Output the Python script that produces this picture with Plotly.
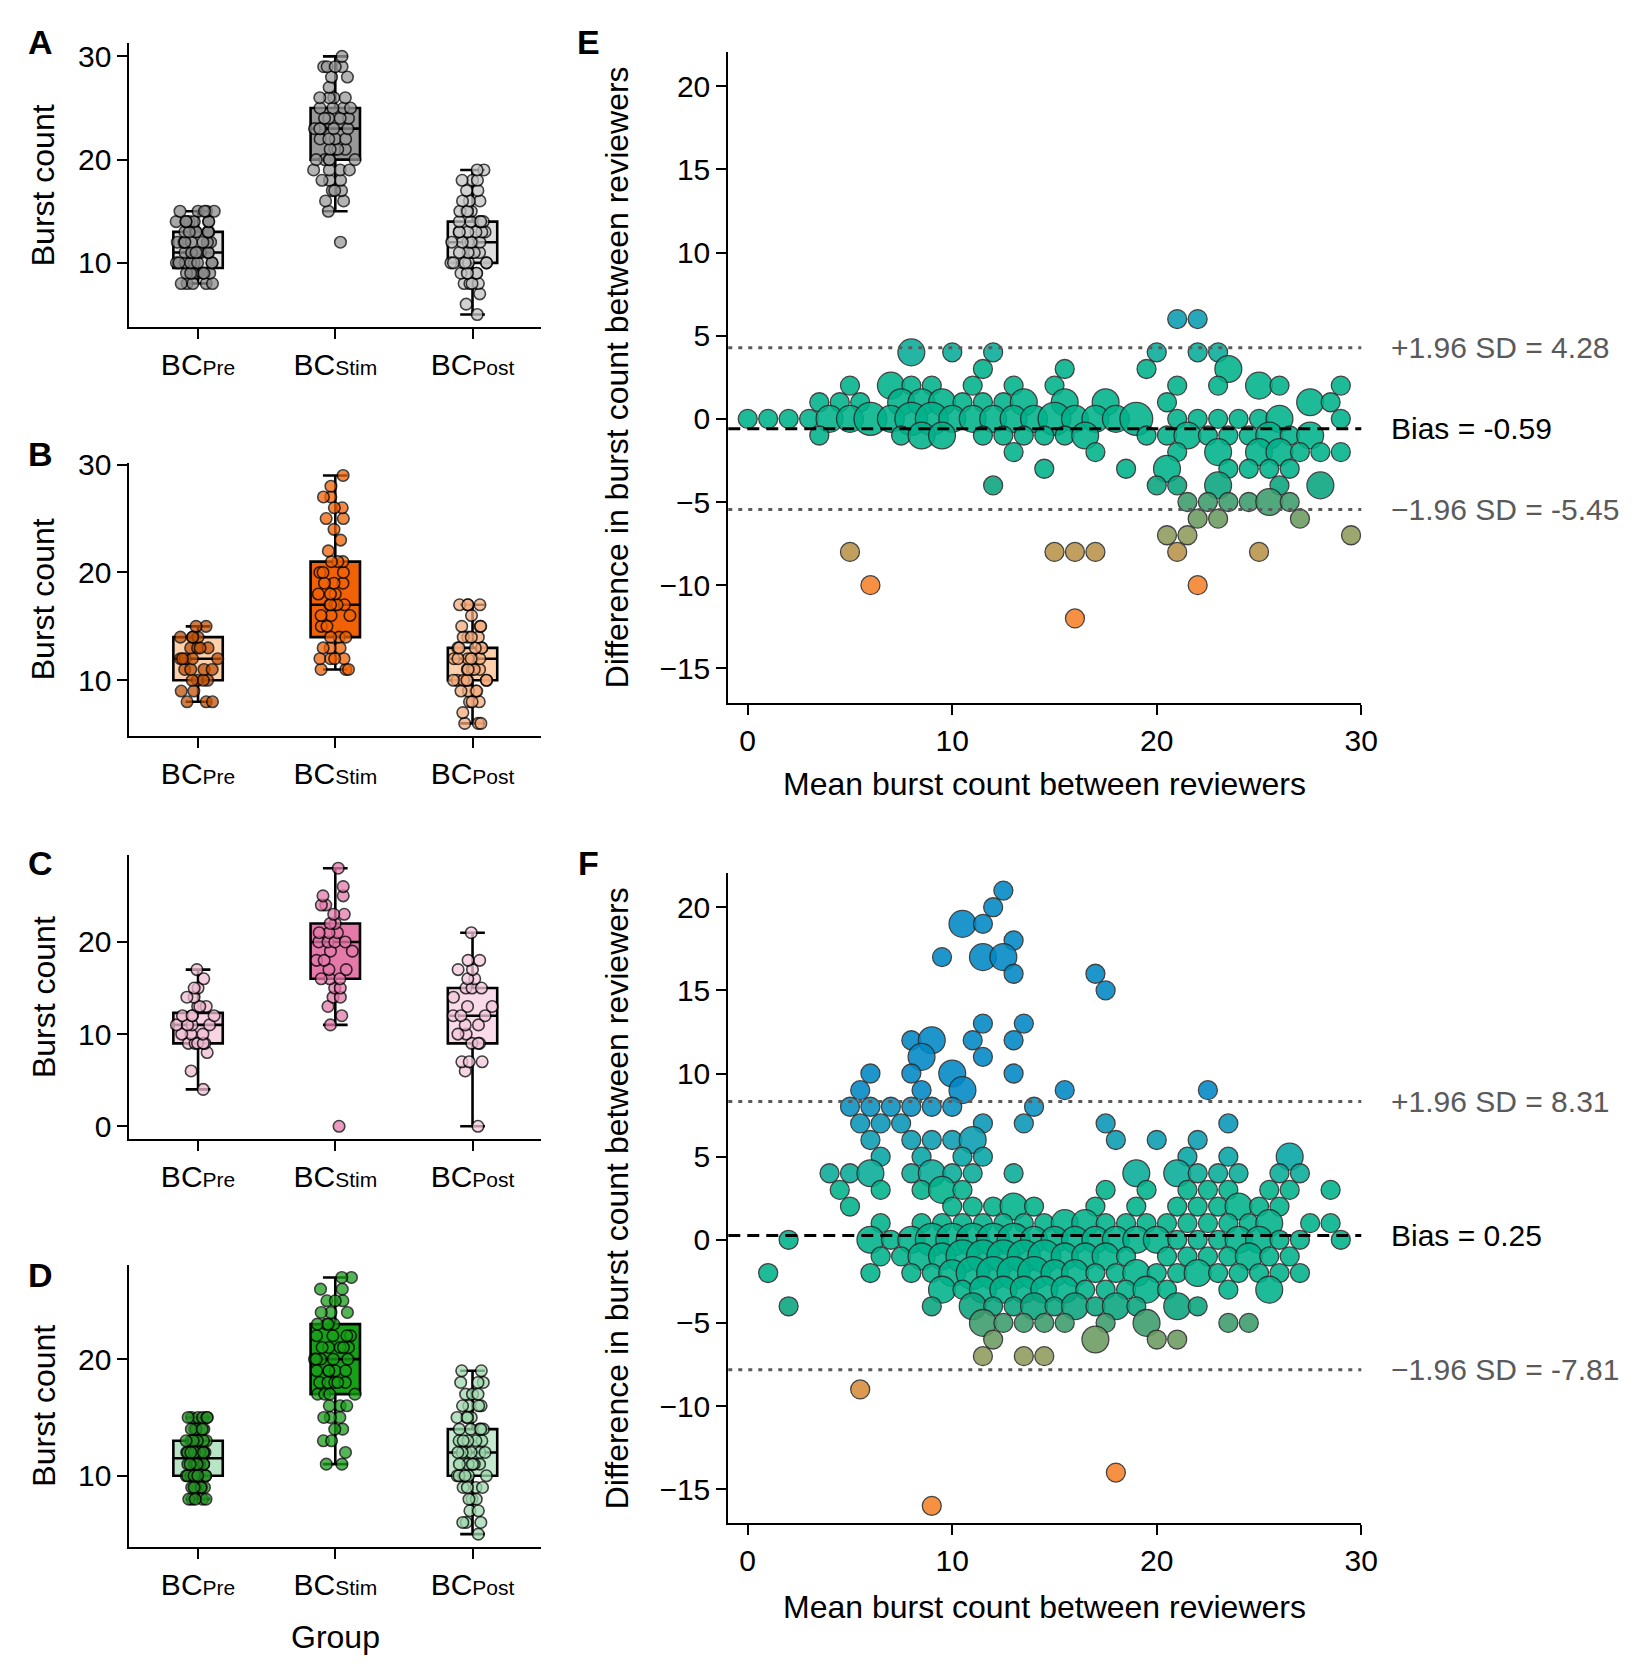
import plotly.graph_objects as go

FONT = "Liberation Sans, Arial, Helvetica, sans-serif"
W, H = 1646, 1678

# ---------------- Box-plot panels A-D ----------------
groups = ["Pre", "Stim", "Post"]

a_pre = [8,8,8,8,8, 9,9,9,9,9,9,9, 10,10,10,10,10,10,10,10, 11,11,11,11,11,11,11,11,
         12,12,12,12,12,12,12,12, 13,13,13,13,13,13,13, 14,14,14,14,14,14,14, 15,15,15,15,15]
a_stim = [12, 15,16,16,17,17,17, 18,18,18, 19,19,19,19, 20,20,20,20,20, 21,21,21,21,
          22,22,22,22, 23,23,23,23,23, 24,24,24,24, 25,25,25,25, 26,26,26,26, 27,
          28,28, 29,29,29,29, 30]
a_post = [5,6,7, 8,8,8,8, 9,9,9,9,9, 10,10,10,10,10,10,10, 11,11,11,11,11,
          12,12,12,12,12,12, 13,13,13,13,13,13, 14,14,14,14,14, 15,15,15,15,
          16,16,16, 17,17, 18,18,18, 19,19]

b_pre = [8,8,8, 9,9, 10,10,10,10, 11,11,11,11, 12,12,12,12,12, 13,13,13,13,
         14,14,14,14, 15,15]
b_stim = [11,11,11, 12,12,12,12, 13,13,13, 14,14,14, 15,15, 16,16,16, 17,17,17,17,17,
          18,18,18, 19,19,19, 20,20,20, 21,21,21, 22, 23, 24, 25,25, 26,26, 27,27, 28, 29]
b_post = [6,6,6, 7, 8,8,8, 9,9,9,9, 10,10,10,10,10,10,10, 11,11,11,11,11,
          12,12,12,12,12,12, 13,13,13,13,13, 14,14,14,14, 15,15,15, 16, 17,17,17,17]

c_pre = [4, 6, 8, 9,9,9,9,9, 10,10,10, 11,11,11,11, 12,12,12,12, 13,13,13,
         14,14, 15,15, 16, 17]
c_stim = [0, 11, 12, 13, 14,14, 15,15, 16,16,16, 17,17, 18,18, 19,19, 20,20,20,20,
          21,21,21, 22,22, 23,23, 24,24, 25,25, 26, 28]
c_post = [0, 6, 7,7,7, 9,9,9, 10,10, 11,11, 12,12,12, 13,13, 14, 15,15,15,
          16,16, 17,17, 18,18, 21]

d_pre = [8,8,8,8,8, 9,9,9,9,9,9,9, 10,10,10,10,10,10,10,10, 11,11,11,11,11,11,11,11,11,
         12,12,12,12,12,12,12,12, 13,13,13,13,13,13,13, 14,14,14,14,14, 15,15,15,15,15,15]
d_stim = [11,11, 12, 13,13, 14,14, 15,15,15, 16,16,16, 17,17,17,17, 18,18,18,18,18,
          19,19,19,19,19, 20,20,20,20,20, 21,21,21,21,21, 22,22,22,22, 23,23,23,23,
          24,24,24, 25,25,25, 26,26, 27,27]
d_post = [5, 6,6,6, 7,7, 8,8,8, 9,9,9,9, 10,10,10,10,10,10, 11,11,11,11,11,11,
          12,12,12,12,12,12, 13,13,13,13,13, 14,14,14,14,14, 15,15,15,15,
          16,16,16,16, 17,17,17, 18,18,18, 19,19]

# box statistics per panel (Pre, Stim, Post)
a_q1, a_med, a_q3, a_lo, a_hi = [9.5, 20, 10], [11, 23, 12], [13, 25, 14], [8, 15, 5], [15, 30, 19]
b_q1, b_med, b_q3, b_lo, b_hi = [10, 14, 10], [12, 17, 12], [14, 21, 13], [8, 11, 6], [15, 29, 17]
c_q1, c_med, c_q3, c_lo, c_hi = [9, 16, 9], [11, 20, 12], [12.3, 22, 15], [4, 11, 0], [17, 28, 21]
d_q1, d_med, d_q3, d_lo, d_hi = [10, 17, 10], [11.5, 20, 12], [13, 23, 14], [8, 11, 5], [15, 27, 19]

panels = [
    dict(pts=[a_pre, a_stim, a_post], q1=a_q1, med=a_med, q3=a_q3, lo=a_lo, hi=a_hi,
         fill=["#dedede", "#999999", "#dedede"], pcol=["#8c8c8c", "#9a9a9a", "#c4c4c4"],
         yr=[3.75, 31.25], yt=[10, 20, 30], dom=(20.7, 307.7)),
    dict(pts=[b_pre, b_stim, b_post], q1=b_q1, med=b_med, q3=b_q3, lo=b_lo, hi=b_hi,
         fill=["#fdd0ad", "#f06205", "#fdd0ad"], pcol=["#c25208", "#f06205", "#f4ab7c"],
         yr=[4.85, 30.15], yt=[10, 20, 30], dom=(444.8, 720.5)),
    dict(pts=[c_pre, c_stim, c_post], q1=c_q1, med=c_med, q3=c_q3, lo=c_lo, hi=c_hi,
         fill=["#f8d4e4", "#e57aaa", "#fadbe9"], pcol=["#f0bcd3", "#e57aaa", "#f5c8dc"],
         yr=[-1.4, 29.4], yt=[0, 10, 20], dom=(841.3, 1128.3)),
    dict(pts=[d_pre, d_stim, d_post], q1=d_q1, med=d_med, q3=d_q3, lo=d_lo, hi=d_hi,
         fill=["#b9e4c5", "#19a019", "#c6ead0"], pcol=["#249024", "#19a019", "#9fd8ad"],
         yr=[3.9, 28.1], yt=[10, 20], dom=(1255.1, 1540.5)),
]

# ---------------- Bland-Altman panels E, F ----------------
e_mean = [21, 22,
          8, 10, 12, 20, 22, 23,
          11.5, 15.5, 19.5, 23.5,
          5, 7, 8, 9, 11, 13, 15, 21, 23, 25, 26, 29,
          3.5, 4.5, 5.5, 7.5, 8.5, 9.5, 10.5, 11.5, 12.5, 13.5, 15.5, 17.5, 20.5, 27.5, 28.5,
          0, 1, 2, 3, 4, 5, 6, 7, 8, 9, 10, 11, 12, 13, 14, 15, 16, 17, 18, 19, 21, 22, 23, 24, 25, 26, 29,
          3.5, 7.5, 8.5, 9.5, 11.5, 12.5, 13.5, 14.5, 15.5, 16.5, 19.5, 20.5, 21.5, 22.5, 23.5, 24.5, 25.5, 26.5, 27.5,
          13, 17, 21, 23, 25, 26, 27, 28, 29,
          14.5, 18.5, 20.5, 23.5, 24.5, 25.5, 26.5,
          12, 20, 21, 23, 26, 28,
          21.5, 22.5, 23.5, 24.5, 25.5, 26.5,
          22, 23, 27,
          20.5, 21.5, 29.5,
          5, 15, 16, 17, 21, 25,
          6, 22,
          16]
e_diff = [6, 6,
          4, 4, 4, 4, 4, 4,
          3, 3, 3, 3,
          2, 2, 2, 2, 2, 2, 2, 2, 2, 2, 2, 2,
          1, 1, 1, 1, 1, 1, 1, 1, 1, 1, 1, 1, 1, 1, 1,
          0, 0, 0, 0, 0, 0, 0, 0, 0, 0, 0, 0, 0, 0, 0, 0, 0, 0, 0, 0, 0, 0, 0, 0, 0, 0, 0,
          -1, -1, -1, -1, -1, -1, -1, -1, -1, -1, -1, -1, -1, -1, -1, -1, -1, -1, -1,
          -2, -2, -2, -2, -2, -2, -2, -2, -2,
          -3, -3, -3, -3, -3, -3, -3,
          -4, -4, -4, -4, -4, -4,
          -5, -5, -5, -5, -5, -5,
          -6, -6, -6,
          -7, -7, -7,
          -8, -8, -8, -8, -8, -8,
          -10, -10,
          -12]
e_n = [1, 1,
       2, 1, 1, 1, 1, 1,
       1, 1, 1, 2,
       1, 2, 1, 1, 1, 1, 1, 1, 1, 2, 1, 1,
       1, 1, 1, 2, 2, 2, 1, 1, 1, 2, 2, 2, 1, 2, 1,
       1, 1, 1, 1, 2, 2, 3, 2, 3, 3, 2, 2, 2, 2, 2, 3, 2, 2, 2, 3, 1, 1, 1, 1, 1, 2, 1,
       1, 1, 2, 2, 1, 1, 1, 1, 1, 2, 1, 1, 2, 1, 1, 1, 2, 1, 2,
       1, 1, 1, 2, 2, 2, 1, 1, 1,
       1, 1, 2, 1, 1, 1, 1,
       1, 1, 1, 2, 1, 2,
       1, 1, 1, 1, 2, 1,
       1, 1, 1,
       1, 1, 1,
       1, 1, 1, 1, 1, 1,
       1, 1,
       1]
e_stats = [4.28, -0.59, -5.45]   # +1.96 SD, bias, -1.96 SD

f_mean = [12.5,
          12,
          10.5, 11.5,
          13,
          9.5, 11.5, 12.5,
          13, 17,
          17.5,
          11.5, 13.5,
          8, 9, 11, 13,
          8.5, 11.5,
          6, 8, 10, 13,
          5.5, 8.5, 10.5, 15.5, 22.5,
          5, 6, 7, 8, 9, 10, 14,
          5.5, 6.5, 7.5, 11.5, 13.5, 17.5, 23.5,
          6, 8, 9, 10, 11, 18, 20, 22,
          6.5, 8.5, 10.5, 11.5, 21.5, 23.5, 26.5,
          4, 5, 6, 8, 9, 10, 11, 13, 19, 21, 22, 23, 24, 26, 27,
          4.5, 6.5, 8.5, 9.5, 10.5, 17.5, 19.5, 21.5, 22.5, 23.5, 25.5, 26.5, 28.5,
          5, 10, 11, 12, 13, 14, 17, 19, 21, 22, 23, 24, 25, 26,
          6.5, 8.5, 9.5, 10.5, 11.5, 12.5, 13.5, 14.5, 15.5, 16.5, 17.5, 18.5, 19.5, 20.5,
          21.5, 22.5, 23.5, 24.5, 25.5, 27.5, 28.5,
          2, 6, 7, 8, 9, 10, 11, 12, 13, 14, 15, 16, 17, 18, 19, 20, 21, 22, 23, 24, 25, 26, 27, 29,
          6.5, 7.5, 8.5, 9.5, 10.5, 11.5, 12.5, 13.5, 14.5, 15.5, 16.5, 17.5, 18.5, 20.5,
          21.5, 22.5, 23.5, 24.5, 25.5, 26.5,
          1, 6, 8, 9, 10, 11, 12, 13, 14, 15, 16, 17, 18, 19, 20, 21, 22, 23, 24, 25, 26, 27,
          9.5, 10.5, 11.5, 12.5, 13.5, 14.5, 15.5, 16.5, 17.5, 18.5, 19.5, 20.5, 23.5, 25.5,
          2, 9, 11, 12, 13, 14, 15, 16, 17, 18, 19, 21, 22,
          11.5, 12.5, 13.5, 14.5, 15.5, 17.5, 19.5, 23.5, 24.5,
          12, 17, 20, 21,
          11.5, 13.5, 14.5,
          5.5,
          18,
          9]
f_diff = [21,
          20,
          19, 19,
          18,
          17, 17, 17,
          16, 16,
          15,
          13, 13,
          12, 12, 12, 12,
          11, 11,
          10, 10, 10, 10,
          9, 9, 9, 9, 9,
          8, 8, 8, 8, 8, 8, 8,
          7, 7, 7, 7, 7, 7, 7,
          6, 6, 6, 6, 6, 6, 6, 6,
          5, 5, 5, 5, 5, 5, 5,
          4, 4, 4, 4, 4, 4, 4, 4, 4, 4, 4, 4, 4, 4, 4,
          3, 3, 3, 3, 3, 3, 3, 3, 3, 3, 3, 3, 3,
          2, 2, 2, 2, 2, 2, 2, 2, 2, 2, 2, 2, 2, 2,
          1, 1, 1, 1, 1, 1, 1, 1, 1, 1, 1, 1, 1, 1,
          1, 1, 1, 1, 1, 1, 1,
          0, 0, 0, 0, 0, 0, 0, 0, 0, 0, 0, 0, 0, 0, 0, 0, 0, 0, 0, 0, 0, 0, 0, 0,
          -1, -1, -1, -1, -1, -1, -1, -1, -1, -1, -1, -1, -1, -1,
          -1, -1, -1, -1, -1, -1,
          -2, -2, -2, -2, -2, -2, -2, -2, -2, -2, -2, -2, -2, -2, -2, -2, -2, -2, -2, -2, -2, -2,
          -3, -3, -3, -3, -3, -3, -3, -3, -3, -3, -3, -3, -3, -3,
          -4, -4, -4, -4, -4, -4, -4, -4, -4, -4, -4, -4, -4,
          -5, -5, -5, -5, -5, -5, -5, -5, -5,
          -6, -6, -6, -6,
          -7, -7, -7,
          -9,
          -14,
          -16]
f_n = [1,
       1,
       2, 1,
       1,
       1, 2, 2,
       1, 1,
       1,
       1, 1,
       1, 2, 1, 1,
       2, 1,
       1, 1, 2, 1,
       1, 1, 2, 1, 1,
       1, 1, 1, 1, 1, 1, 1,
       1, 1, 1, 1, 1, 1, 1,
       1, 1, 1, 1, 2, 1, 1, 1,
       1, 1, 1, 1, 1, 1, 2,
       1, 1, 2, 1, 2, 1, 1, 1, 2, 2, 1, 1, 1, 1, 1,
       1, 1, 1, 2, 1, 1, 1, 1, 1, 1, 1, 1, 1,
       1, 1, 1, 1, 2, 1, 1, 1, 1, 1, 1, 2, 1, 1,
       1, 1, 1, 1, 1, 1, 1, 1, 2, 2, 1, 1, 1, 1,
       1, 1, 1, 1, 2, 1, 1,
       1, 2, 1, 2, 3, 3, 3, 3, 3, 2, 2, 2, 2, 2, 2, 2, 1, 1, 1, 2, 2, 1, 1, 1,
       1, 1, 2, 2, 3, 3, 3, 3, 3, 2, 2, 2, 1, 1,
       1, 1, 1, 2, 1, 1,
       1, 1, 1, 1, 2, 3, 3, 3, 3, 2, 2, 1, 1, 2, 1, 1, 2, 1, 1, 1, 1, 1,
       2, 1, 2, 2, 2, 2, 2, 1, 1, 1, 2, 1, 1, 2,
       1, 1, 2, 1, 1, 2, 1, 2, 1, 2, 1, 2, 1,
       2, 1, 1, 1, 1, 1, 2, 1, 1,
       1, 2, 1, 1,
       1, 1, 1,
       1,
       1,
       1]
f_stats = [8.31, 0.25, -7.81]

# diverging colour scale on the difference value
diff_colorscale = [
    [0.00, "#f5822a"], [0.10, "#b9934a"], [0.15, "#8f9a5c"], [0.20, "#6b9b5f"],
    [0.25, "#3c9c6c"], [0.30, "#08a47e"], [0.35, "#00b28b"], [0.65, "#00b28b"],
    [0.70, "#06ab98"], [0.75, "#04a5a4"], [0.80, "#0a9cb1"], [0.90, "#0890c0"],
    [0.95, "#0088c6"], [1.00, "#0088c6"],
]

fig = go.Figure()

def px2fy(y):
    return 1 - y / H

LX = (122.7 / W, 538.7 / W)
RX = (727.8 / W, 1367.4 / W)

axis_common = dict(showline=True, linecolor="black", linewidth=2, ticks="outside",
                   ticklen=10, tickwidth=2, tickcolor="black", showgrid=False,
                   zeroline=False, tickfont=dict(family=FONT, size=30, color="black"))

cat_text = ["BC<span style='font-size:21px'>%s</span>" % g for g in groups]
layout_axes = {}
annotations = []

for i, p in enumerate(panels):
    k = i + 1
    xa = "x" if k == 1 else "x%d" % k
    ya = "y" if k == 1 else "y%d" % k
    for j in range(3):
        fig.add_trace(go.Box(
            x=[j], q1=[p["q1"][j]], median=[p["med"][j]], q3=[p["q3"][j]],
            lowerfence=[p["lo"][j]], upperfence=[p["hi"][j]],
            width=0.36, whiskerwidth=0.5, fillcolor=p["fill"][j],
            line=dict(color="black", width=2.6), boxpoints=False,
            orientation="v", xaxis=xa, yaxis=ya, hoverinfo="skip"))
        fig.add_trace(go.Box(
            y=p["pts"][j], x0=j, width=0.36, boxpoints="all", jitter=0.9, pointpos=0,
            fillcolor="rgba(0,0,0,0)", line=dict(width=0, color="rgba(0,0,0,0)"),
            marker=dict(color=p["pcol"][j], size=11.5, opacity=0.75,
                        line=dict(color="black", width=1.6)),
            orientation="v", xaxis=xa, yaxis=ya, hoverinfo="skip"))
    top, bot = p["dom"]
    layout_axes["xaxis" if k == 1 else "xaxis%d" % k] = dict(
        axis_common, domain=list(LX), anchor=ya, range=[-0.5, 2.5],
        tickvals=[0, 1, 2], ticktext=cat_text)
    layout_axes["yaxis" if k == 1 else "yaxis%d" % k] = dict(
        axis_common, domain=[px2fy(bot), px2fy(top)], anchor=xa, range=p["yr"],
        tickvals=p["yt"])
    annotations.append(dict(text="Burst count", x=36.2 / W, y=px2fy((top + bot) / 2),
                            xref="paper", yref="paper", textangle=-90, showarrow=False,
                            font=dict(family=FONT, size=32, color="black"),
                            xanchor="center", yanchor="middle"))

ba = [
    dict(k=5, mean=e_mean, diff=e_diff, n=e_n, st=e_stats, dom=(29.4, 686.9),
         xtitle_y=769.2, labels=["+1.96 SD = 4.28", "Bias = -0.59", "\u22121.96 SD = -5.45"]),
    dict(k=6, mean=f_mean, diff=f_diff, n=f_n, st=f_stats, dom=(859.2, 1516.7),
         xtitle_y=1601.2, labels=["+1.96 SD = 8.31", "Bias = 0.25", "\u22121.96 SD = -7.81"]),
]
shapes = []
for b in ba:
    k = b["k"]
    xa, ya = "x%d" % k, "y%d" % k
    fig.add_trace(go.Scatter(
        x=b["mean"], y=b["diff"], mode="markers", xaxis=xa, yaxis=ya, hoverinfo="skip",
        marker=dict(color=b["diff"], colorscale=diff_colorscale, cmin=-10, cmax=10,
                    size=b["n"], sizemode="area", sizeref=1 / 180.0, opacity=0.88,
                    line=dict(color="#2a2a2a", width=1.3))))
    top, bot = b["dom"]
    layout_axes["xaxis%d" % k] = dict(axis_common, domain=list(RX), anchor=ya,
                                      range=[-0.95, 30], tickvals=[0, 10, 20, 30])
    layout_axes["yaxis%d" % k] = dict(axis_common, domain=[px2fy(bot), px2fy(top)], anchor=xa,
                                      range=[-17.06, 22.06],
                                      tickvals=[-15, -10, -5, 0, 5, 10, 15, 20])
    for val, dash, col, wid in [(b["st"][0], "4px,6px", "#5a5a5a", 3),
                                (b["st"][2], "4px,6px", "#5a5a5a", 3),
                                (b["st"][1], "12px,7px", "black", 3)]:
        shapes.append(dict(type="line", xref="%s domain" % xa, yref=ya, x0=0, x1=1,
                           y0=val, y1=val, line=dict(color=col, width=wid, dash=dash),
                           layer="above"))
    for val, txt, col in zip(b["st"], b["labels"], ["#5a5a5a", "black", "#5a5a5a"]):
        annotations.append(dict(text=txt, x=1395.5 / W, y=val, xref="paper", yref=ya,
                                showarrow=False, xanchor="left", yanchor="middle",
                                font=dict(family=FONT, size=30, color=col)))
    annotations.append(dict(text="Mean burst count between reviewers", x=1047.6 / W,
                            y=px2fy(b["xtitle_y"]), xref="paper", yref="paper",
                            showarrow=False, xanchor="center", yanchor="middle",
                            font=dict(family=FONT, size=32, color="black")))
    annotations.append(dict(text="Difference in burst count between reviewers", x=615.4 / W,
                            y=px2fy((top + bot) / 2), xref="paper", yref="paper",
                            textangle=-90, showarrow=False, xanchor="center", yanchor="middle",
                            font=dict(family=FONT, size=32, color="black")))

annotations.append(dict(text="Group", x=331.2 / W, y=px2fy(1631.5), xref="paper", yref="paper",
                        showarrow=False, xanchor="center", yanchor="middle",
                        font=dict(family=FONT, size=32, color="black")))

for letter, (lx, ly) in zip("ABCDEF", [(33, 19.6), (33, 435.5), (33, 849.4), (33, 1265.4),
                                        (586.2, 19.6), (586.2, 849.4)]):
    annotations.append(dict(text="<b>%s</b>" % letter, x=lx / W, y=px2fy(ly),
                            xref="paper", yref="paper", showarrow=False,
                            xanchor="center", yanchor="middle",
                            font=dict(family=FONT, size=34, color="black")))

fig.update_layout(
    width=W, height=H, margin=dict(l=0, r=0, t=0, b=0),
    paper_bgcolor="white", plot_bgcolor="white", showlegend=False,
    boxmode="overlay", annotations=annotations, shapes=shapes,
    font=dict(family=FONT, color="black"),
    **layout_axes)

fig.write_html("out.html")
